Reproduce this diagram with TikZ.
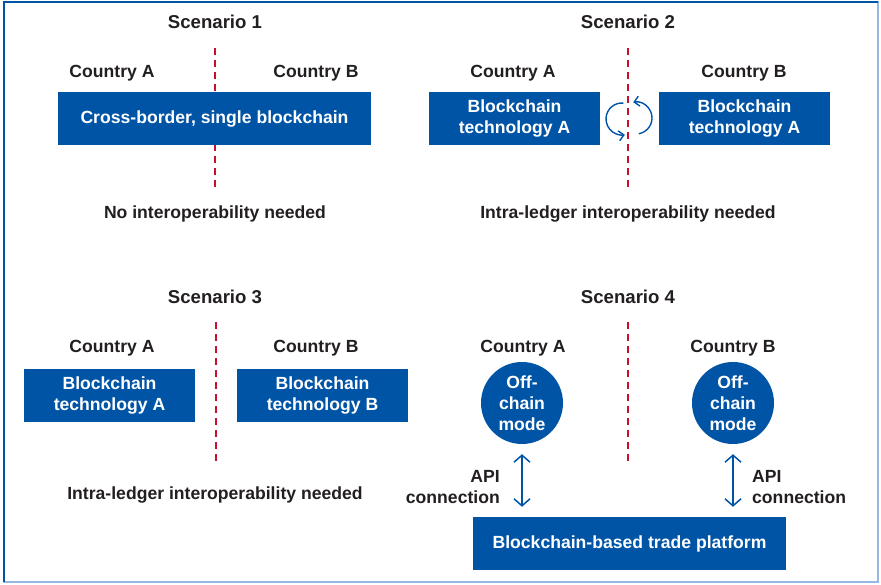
\documentclass[tikz,border=0pt]{standalone}
\usepackage{fontspec}
\setmainfont{Liberation Sans}
\usepackage{xcolor}
\definecolor{bisblue}{RGB}{0, 84, 166}
\definecolor{bisred}{RGB}{200, 16, 46}
\definecolor{bisink}{RGB}{35, 31, 32}
\definecolor{bisframe}{RGB}{150, 185, 228}
\usetikzlibrary{arrows.meta}
\tikzset{
  bcbox/.style={fill=bisblue,text=white,font=\bfseries\fontsize{17.6}{21}\selectfont,
    align=center,minimum height=53pt,inner sep=0pt},
  offchain/.style={circle,fill=bisblue,text=white,font=\bfseries\fontsize{17.6}{21}\selectfont,
    align=center,minimum size=82pt,inner sep=0pt},
  lbl/.style={text=bisink,font=\bfseries\fontsize{17.6}{21}\selectfont,inner sep=0pt},
  head/.style={lbl,font=\bfseries\fontsize{18.6}{21}\selectfont},
  border/.style={bisred,line width=2.5pt,dash pattern=on 7pt off 5pt},
  api/.style={bisblue,line width=1.5pt,{Straight Barb[length=7pt,width=16pt]}-{Straight Barb[length=7pt,width=16pt]}},
  swap/.style={bisblue,line width=1.4pt,-{Straight Barb[length=5pt,width=10pt]}},
}
\begin{document}
\begin{tikzpicture}[x=1pt,y=1pt]
\useasboundingbox (0,0) rectangle (881,585);
\draw[bisframe,line width=1.5pt] (4,3) rectangle (878,583);
\draw[bisblue,line width=1.5pt] (4,3) -- (4,583) -- (878,583);
\node[head] (s1) at (215,563) {Scenario 1};
\node[head] (s2) at (628,563) {Scenario 2};
\node[head] (s3) at (215,288) {Scenario 3};
\node[head] (s4) at (628,288) {Scenario 4};
\node[lbl] (s1a) at (112,512) {Country A};
\node[lbl] (s1b) at (316,512) {Country B};
\node[lbl] (s2a) at (513,512) {Country A};
\node[lbl] (s2b) at (744,512) {Country B};
\node[lbl] (s3a) at (112,237) {Country A};
\node[lbl] (s3b) at (316,237) {Country B};
\node[lbl] (s4a) at (523,237) {Country A};
\node[lbl] (s4b) at (733,237) {Country B};
\coordinate (d1t) at (215,537);
\coordinate (d1b) at (215,395);
\coordinate (d2t) at (628,537);
\coordinate (d2b) at (628,395);
\coordinate (d3t) at (216,263);
\coordinate (d3b) at (216,120);
\coordinate (d4t) at (628,263);
\coordinate (d4b) at (628,120);
\draw[border] (d1t) -- (d1b);
\draw[border] (d2t) -- (d2b);
\draw[border] (d3t) -- (d3b);
\draw[border] (d4t) -- (d4b);
\node[bcbox,minimum width=313pt] (cross) at (214.5,466.5) {Cross-border, single blockchain};
\node[bcbox,minimum width=171pt] (tech2a) at (514.5,466.5) {Blockchain\\technology A};
\node[bcbox,minimum width=171pt] (tech2b) at (744.5,466.5) {Blockchain\\technology A};
\node[bcbox,minimum width=171pt] (tech3a) at (109.5,189.5) {Blockchain\\technology A};
\node[bcbox,minimum width=171pt] (tech3b) at (322.5,189.5) {Blockchain\\technology B};
\node[offchain] (offa) at (522,182) {Off-\\chain\\mode};
\node[offchain] (offb) at (733,182) {Off-\\chain\\mode};
\node[bcbox,minimum width=313pt] (platform) at (629.5,41.5) {Blockchain-based trade platform};
\node[lbl] (n1) at (215,371) {No interoperability needed};
\node[lbl] (n2) at (628,371) {Intra-ledger interoperability needed};
\node[lbl] (n3) at (215,90) {Intra-ledger interoperability needed};
\coordinate (swl) at (622,466);
\coordinate (swr) at (636,467);
\draw[swap] ([shift={(85:16)}]swl) arc[start angle=85,end angle=280,radius=16];
\draw[swap] ([shift={(-80:16)}]swr) arc[start angle=-80,end angle=100,radius=16];
\draw[api,shorten <=10pt,shorten >=10pt] (offa.south) -- (offa.south |- platform.north);
\draw[api,shorten <=10pt,shorten >=10pt] (offb.south) -- (offb.south |- platform.north);
\node[lbl,anchor=east,align=right] (apia) at (500,98) {API\\connection};
\node[lbl,anchor=west,align=left] (apib) at (752,98) {API\\connection};
\end{tikzpicture}
\end{document}
